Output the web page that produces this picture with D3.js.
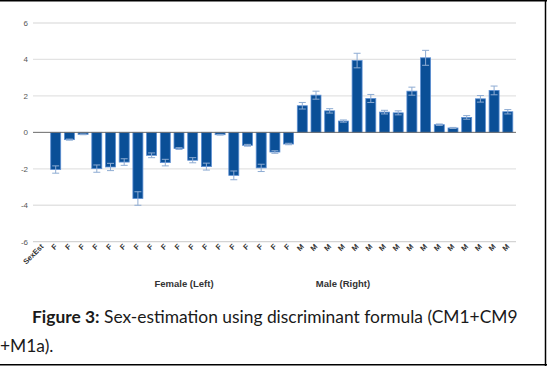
<!DOCTYPE html>
<html><head><meta charset="utf-8">
<script src="https://cdn.jsdelivr.net/npm/d3@7"></script>
<style>body{margin:0;background:#fff;}svg{display:block;}</style>
</head><body>
<script>
const categories = ["SexEst","F","F","F","F","F","F","F","F","F","F","F","F","F","F","F","F","F","F",
  "M","M","M","M","M","M","M","M","M","M","M","M","M","M","M","M"];
const values = [null,-2.04,-0.40,-0.11,-1.99,-1.90,-1.63,-3.63,-1.26,-1.66,-0.89,-1.53,-1.88,-0.13,-2.36,-0.71,-1.95,-1.08,-0.64,
  1.46,2.04,1.18,0.62,3.94,1.86,1.11,1.07,2.26,4.09,0.42,0.24,0.82,1.84,2.30,1.13];
const errors = [null,0.20,0.03,0.02,0.20,0.20,0.18,0.37,0.13,0.18,0.05,0.14,0.19,0.02,0.24,0.05,0.20,0.07,0.04,
  0.18,0.22,0.12,0.06,0.40,0.22,0.10,0.11,0.22,0.41,0.04,0.03,0.10,0.18,0.24,0.12];
const yTicks = [-6,-4,-2,0,2,4,6];
const groupLabels = ["Female (Left)","Male (Right)"];
const captionBold = "Figure 3:";
const captionRest = " Sex-estimation using discriminant formula (CM1+CM9";
const captionLine2 = "+M1a).";

const W = 547, H = 366;
const svg = d3.select("body").append("svg").attr("width", W).attr("height", H);

const idx = categories.map((d,i)=>i);
const x = d3.scaleBand().domain(idx).range([35.15, 514.65]).paddingInner(0.27).paddingOuter(0.135);
const y = d3.scaleLinear().domain([-6, 6]).range([241.7, 23]);
const gridX0 = 33, gridX1 = 516;

// gridlines
svg.append("g").selectAll("line").data(yTicks.filter(t=>t!==0)).join("line")
  .attr("x1", gridX0).attr("x2", gridX1)
  .attr("y1", d=>y(d)).attr("y2", d=>y(d))
  .attr("stroke", d=> d===-6 ? "#d4d4d4" : "#e3e3e3").attr("stroke-width", 1.3);

// y tick labels
svg.append("g").selectAll("text").data(yTicks).join("text")
  .attr("x", 28).attr("y", d=>y(d)+3)
  .attr("text-anchor","end")
  .attr("font-family","Liberation Sans, Arial, sans-serif").attr("font-size",8)
  .attr("fill","#555").text(d=>d);

// bars
const data = idx.filter(i=>values[i]!==null);
svg.append("g").selectAll("rect").data(data).join("rect")
  .attr("x", i=>x(i)).attr("width", x.bandwidth())
  .attr("y", i=>y(Math.max(0, values[i])))
  .attr("height", i=>Math.abs(y(values[i])-y(0)))
  .attr("fill","#0a4f97").attr("stroke","#5d8fd3").attr("stroke-width",0.8);

// error bars
const eg = svg.append("g").attr("stroke","#8eacd3").attr("stroke-width",1);
data.forEach(i=>{
  const cx = x(i)+x.bandwidth()/2;
  const v = values[i], e = errors[i];
  const y1 = y(v+e), y2 = y(v-e);
  eg.append("line").attr("x1",cx).attr("x2",cx).attr("y1",y1).attr("y2",y2);
  eg.append("line").attr("x1",cx-3.5).attr("x2",cx+3.5).attr("y1",y1).attr("y2",y1);
  eg.append("line").attr("x1",cx-3.5).attr("x2",cx+3.5).attr("y1",y2).attr("y2",y2);
});

// zero line
svg.append("line").attr("x1",gridX0).attr("x2",gridX1).attr("y1",y(0)).attr("y2",y(0))
  .attr("stroke","#6a6a6a").attr("stroke-width",1);

// x labels
svg.append("g").selectAll("text").data(idx).join("text")
  .attr("transform", i=>`translate(${x(i)+x.bandwidth()/2+2},${247}) rotate(-45)`)
  .attr("text-anchor","end")
  .attr("font-family","Liberation Sans, Arial, sans-serif").attr("font-size",7.5).attr("font-weight","bold")
  .attr("fill","#333").text(i=>categories[i]);

// group labels
const gpos = [184, 343];
svg.append("g").selectAll("text").data(groupLabels).join("text")
  .attr("x",(d,i)=>gpos[i]).attr("y",287).attr("text-anchor","middle")
  .attr("font-family","Liberation Sans, Arial, sans-serif").attr("font-size",9.5).attr("font-weight","bold")
  .attr("fill","#333").text(d=>d);

// caption
const cap = svg.append("text").attr("x",32).attr("y",323)
  .attr("font-family","Lato, Open Sans, sans-serif").attr("font-size",19).attr("fill","#1a1a1a");
cap.append("tspan").attr("font-weight","bold").text(captionBold);
cap.append("tspan").text(captionRest);
const targetW = 486;
const w0 = cap.node().getComputedTextLength();
const fs = 19*targetW/w0;
cap.attr("font-size", fs);
svg.append("text").attr("x",0).attr("y",352)
  .attr("font-family","Lato, Open Sans, sans-serif").attr("font-size",fs).attr("fill","#1a1a1a")
  .text(captionLine2);

// border
svg.append("line").attr("x1",0).attr("x2",W).attr("y1",0.75).attr("y2",0.75).attr("stroke","#000").attr("stroke-width",1.5);
svg.append("line").attr("x1",545.5).attr("x2",545.5).attr("y1",0).attr("y2",366).attr("stroke","#000").attr("stroke-width",1.5);
svg.append("line").attr("x1",0).attr("x2",547).attr("y1",364.75).attr("y2",364.75).attr("stroke","#000").attr("stroke-width",1.5);
</script>
</body></html>
